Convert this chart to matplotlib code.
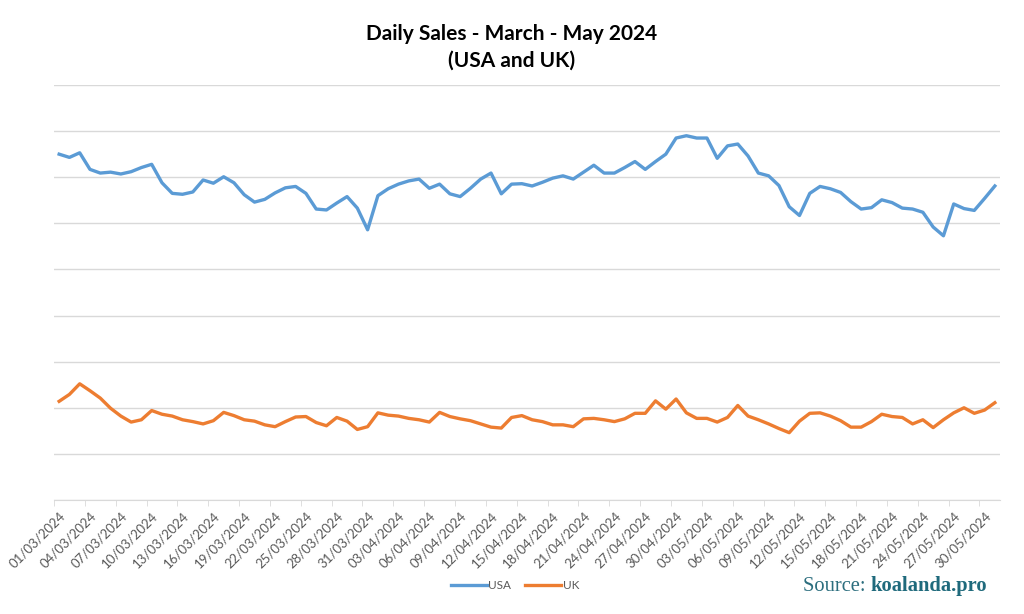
import numpy as np
import pandas as pd
import matplotlib
matplotlib.use("Agg")
import matplotlib.pyplot as plt

plt.rcParams['font.family'] = ['Lato', 'DejaVu Sans']

# Daily dates, March 1 - May 31 2024
dates = pd.date_range("2024-03-01", "2024-05-31", freq="D")
date_labels = [d.strftime("%d/%m/%Y") for d in dates]

usa = [75.0, 74.3, 75.3, 71.7, 70.9, 71.1, 70.7, 71.2, 72.1, 72.8,
       68.8, 66.5, 66.3, 66.8, 69.4, 68.7, 70.1, 68.8, 66.2, 64.6,
       65.2, 66.6, 67.7, 68.0, 66.5, 63.1, 62.9, 64.4, 65.8, 63.3,
       58.6, 66.0, 67.5, 68.5, 69.2, 69.6, 67.6, 68.5, 66.4, 65.8,
       67.6, 69.6, 70.9, 66.4, 68.5, 68.6, 68.1, 68.9, 69.8, 70.3,
       69.6, 71.1, 72.6, 70.9, 70.9, 72.1, 73.4, 71.7, 73.4, 75.0,
       78.5, 79.0, 78.5, 78.5, 74.1, 76.8, 77.2, 74.6, 70.9, 70.3,
       68.2, 63.6, 61.7, 66.5, 68.0, 67.5, 66.7, 64.7, 63.1, 63.4,
       65.1, 64.5, 63.3, 63.1, 62.4, 59.2, 57.3, 64.2, 63.2, 62.8,
       65.4, 68.1]

uk = [21.4, 22.9, 25.2, 23.7, 22.1, 19.9, 18.2, 16.9, 17.4, 19.4,
      18.6, 18.2, 17.4, 17.0, 16.5, 17.2, 19.0, 18.3, 17.4, 17.1,
      16.3, 15.9, 17.0, 18.0, 18.1, 16.8, 16.1, 17.9, 17.1, 15.3,
      15.9, 18.9, 18.4, 18.2, 17.7, 17.4, 16.9, 19.0, 18.1, 17.6,
      17.2, 16.5, 15.8, 15.6, 17.9, 18.3, 17.4, 17.0, 16.3, 16.3,
      15.9, 17.6, 17.7, 17.4, 17.0, 17.6, 18.8, 18.8, 21.5, 19.7,
      21.9, 18.9, 17.7, 17.7, 16.9, 17.9, 20.5, 18.2, 17.4, 16.5,
      15.5, 14.6, 17.1, 18.8, 18.9, 18.2, 17.2, 15.8, 15.8, 17.0,
      18.6, 18.1, 17.9, 16.5, 17.4, 15.7, 17.4, 18.9, 20.0, 18.8,
      19.5, 21.1]

x = np.arange(len(dates))

fig = plt.figure(figsize=(10.24, 6.14), dpi=100)
ax = fig.add_axes([54 / 1024, 114 / 614, 946 / 1024, 415 / 614])

usa_line, = ax.plot(x, usa, color="#5B9BD5", lw=2.4, label="USA", solid_joinstyle="round")
uk_line, = ax.plot(x, uk, color="#ED7D31", lw=2.4, label="UK", solid_joinstyle="round")

ax.set_xlim(-0.5, len(dates) - 0.5)
ax.set_ylim(0, 90)
ax.set_yticks(np.arange(0, 91, 10))
ax.yaxis.grid(True, color="#D9D9D9", lw=1)
ax.set_axisbelow(True)
ax.tick_params(axis="y", left=False, labelleft=False)

# labels every third day, tick marks between categories
ax.set_xticks(x[::3])
ax.set_xticklabels(date_labels[::3], rotation=45, ha="right",
                   rotation_mode="anchor", fontsize=9.5, color="#595959")
ax.tick_params(axis="x", length=0, pad=7)
ax.set_xticks(np.arange(-0.5, len(dates), 3), minor=True)
ax.tick_params(axis="x", which="minor", length=4, color="#D9D9D9")

for s in ["top", "right", "left"]:
    ax.spines[s].set_visible(False)
ax.spines["bottom"].set_color("#D9D9D9")

fig.text(0.5, 0.945, "Daily Sales - March - May 2024", ha="center", va="center",
         fontsize=15, fontweight="bold", color="black")
fig.text(0.5, 0.902, "(USA and UK)", ha="center", va="center",
         fontsize=15, fontweight="bold", color="black")

fig.legend(handles=[usa_line, uk_line], loc="center", bbox_to_anchor=(0.503, 0.047),
           ncol=2, frameon=False, fontsize=8.5, labelcolor="#595959",
           handlelength=3.0, handletextpad=0.15, columnspacing=1.2)

src = fig.text(803 / 1024, 0.044, "Source: ", ha="left", va="center",
               fontsize=14.8, family="Liberation Serif", color="#2C6E7E")
ax.annotate("koalanda.pro", xy=(1, 0), xycoords=src, ha="left", va="bottom",
            fontsize=14.8, family="Liberation Serif", fontweight="bold", color="#1F6A7C")

fig.savefig("out.png", dpi=100)
